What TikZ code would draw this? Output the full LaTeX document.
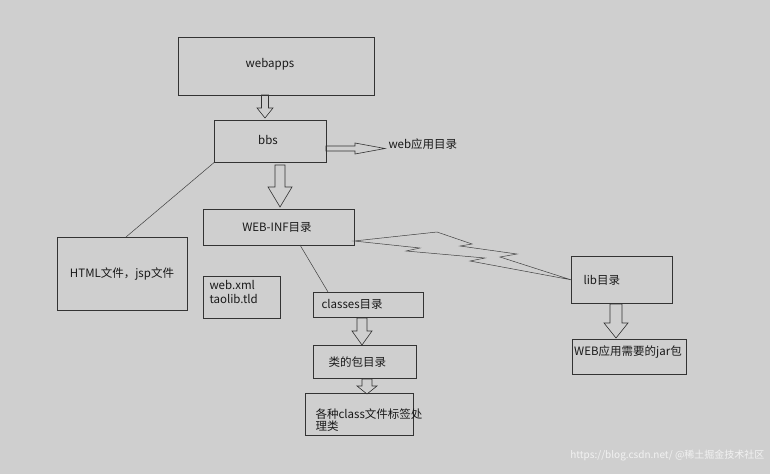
\documentclass[tikz,border=0pt]{standalone}
\usepackage{fontspec}
\setmainfont{Noto Sans CJK SC}
\begin{document}
\begin{tikzpicture}[x=1pt,y=-1pt,
  box/.style={draw=black!80,line width=0.6pt,inner sep=0pt},
  lbl/.style={font=\fontsize{11.5}{14}\selectfont,text=black!90},
  ln/.style={draw=black!75,line width=0.5pt},
  harr/.style={draw=black!80,fill=none,line width=0.6pt,line join=miter}]
\fill[gray!38] (0,0) rectangle (770,474);
\useasboundingbox (0,0) rectangle (770,474);
\newcommand{\harrow}[6]{% x, ytop, ybot, shaft half, head half, head len
  \draw[harr] (#1-#4,#2) -- (#1+#4,#2) -- (#1+#4,#3-#6) -- (#1+#5,#3-#6) -- (#1,#3) -- (#1-#5,#3-#6) -- (#1-#4,#3-#6) -- cycle;}
% boxes
\node[box,minimum width=196,minimum height=58,anchor=north west] (wa) at (178,37) {};
\node[lbl] at (270,64) {webapps};
\node[box,minimum width=112,minimum height=42,anchor=north west] (bbs) at (214,120) {};
\node[lbl] at (268,140) {bbs};
\node[lbl,anchor=west] (wd) at (385,144) {web应用目录};
\node[box,minimum width=151,minimum height=36,anchor=north west] (wi) at (203,209) {};
\node[lbl] at (277,227) {WEB-INF目录};
\node[box,minimum width=130,minimum height=73,anchor=north west] (html) at (57,237) {};
\node[lbl] at (122,274) {HTML文件，jsp文件};
\node[box,minimum width=77,minimum height=42,anchor=north west] (wx) at (203,276) {};
\node[lbl,anchor=north west,align=left] at (206,277) {web.xml\\taolib.tld};
\node[box,minimum width=110,minimum height=25,anchor=north west] (cl) at (313,292) {};
\node[lbl,anchor=west] at (318,304) {classes目录};
\node[box,minimum width=103,minimum height=33,anchor=north west] (pk) at (313,345) {};
\node[lbl,anchor=west] at (325,362) {类的包目录};
\node[box,minimum width=108,minimum height=42,anchor=north west] (cf) at (305,393) {};
\node[lbl,anchor=north west,align=left] at (312,405) {各种class文件标签处\\[-2pt]理类};
\node[box,minimum width=101,minimum height=47,anchor=north west] (lib) at (571,256) {};
\node[lbl,anchor=west] at (580,280) {lib目录};
\node[box,minimum width=114,minimum height=35,anchor=north west] (jar) at (572,339) {};
\node[lbl] at (628,352) {WEB应用需要的jar包};
% connectors
\draw[ln] (bbs.south west) -- (126,237);
\draw[ln] (300,245) -- (328,292);
\draw[ln,line join=miter] (354,241) -- (437,232) -- (472,244) -- (460,246) -- (517,254) -- (500,257) -- (lib.west) -- (470,261) -- (485,258) -- (406,251) -- (420,248) -- cycle;
% hollow arrows
\harrow{265}{95}{118}{3.5}{8}{10}
\harrow{280}{165}{207}{5}{12}{20}
\harrow{362}{318}{345}{5}{10}{14}
\harrow{367}{379}{394}{5}{10}{8}
\harrow{616}{304}{338}{6}{12}{15}
\draw[harr] (326,146) -- (355,146) -- (355,143) -- (385,148.5) -- (355,154) -- (355,151) -- (326,151) -- cycle;
% watermark
\node[anchor=east,text=white!90!gray,font=\fontsize{10}{12}\selectfont] at (768,455) {https://blog.csdn.net/  @稀土掘金技术社区};
\end{tikzpicture}
\end{document}
